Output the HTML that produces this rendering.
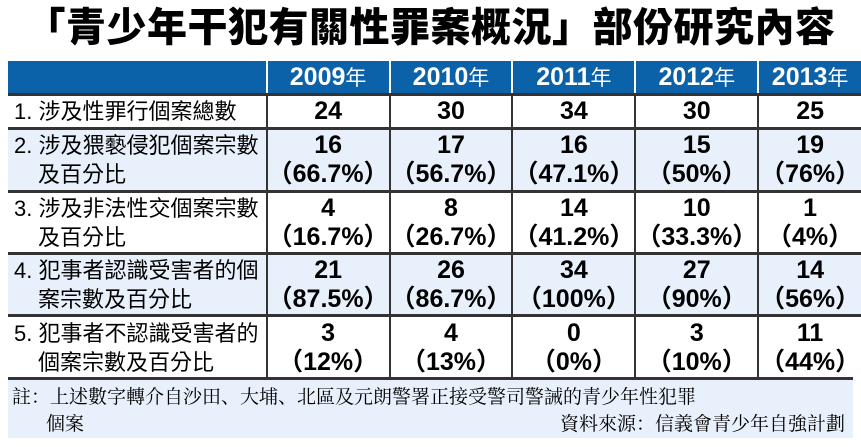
<!DOCTYPE html>
<html><head><meta charset="utf-8"><style>
body{margin:0;width:861px;height:447px;background:#fff;overflow:hidden;font-family:"Liberation Sans","Noto Sans CJK TC",sans-serif;}
.title{position:absolute;left:0;top:2px;width:861px;text-align:center;font-size:40px;font-weight:900;line-height:52px;color:#000;letter-spacing:0.5px;}
table{position:absolute;left:8px;top:61px;border-collapse:collapse;table-layout:fixed;}
td,th{padding:0;text-align:center;vertical-align:middle;}
th{background:#0b62a8;color:#fff;font-size:25px;font-weight:bold;height:32px;border-left:2px solid #fff;}
th:first-child{border-left:none}
td{border-top:3px solid #333;border-left:2px solid #333;font-size:25px;font-weight:bold;line-height:29px;}
td.lab{border-left:none;text-align:left;font-weight:normal;font-size:22px;line-height:29px;padding-left:6px;white-space:pre;}
.l2{position:relative;left:24px;}
tr.alt td{background:#e8f1fb;}
.foot{position:absolute;left:8px;top:377px;width:845px;height:61px;background:#e8f1fb;border-top:3px solid #333;box-sizing:border-box;font-size:19px;line-height:27px;font-family:"Noto Serif CJK SC","Liberation Serif",serif;}
.y{font-size:21px;font-weight:normal}
</style></head><body>
<div class="title">「青少年干犯有關性罪案概況」部份研究內容</div>
<table>
<colgroup><col style="width:272px"><col style="width:117px"><col style="width:118px"><col style="width:117px"><col style="width:115px"><col style="width:106px"></colgroup>
<tr><th></th><th>2009<span class="y">年</span></th><th>2010<span class="y">年</span></th><th>2011<span class="y">年</span></th><th>2012<span class="y">年</span></th><th>2013<span class="y">年</span></th></tr>
<tr style="height:34px"><td class="lab">1. 涉及性罪行個案總數</td><td>24</td><td>30</td><td>34</td><td>30</td><td>25</td></tr>
<tr class="alt" style="height:63px"><td class="lab">2. 涉及猥褻侵犯個案宗數<br><span class="l2">及百分比</span></td><td>16<br>（66.7%）</td><td>17<br>（56.7%）</td><td>16<br>（47.1%）</td><td>15<br>（50%）</td><td>19<br>（76%）</td></tr>
<tr style="height:62px"><td class="lab">3. 涉及非法性交個案宗數<br><span class="l2">及百分比</span></td><td>4<br>（16.7%）</td><td>8<br>（26.7%）</td><td>14<br>（41.2%）</td><td>10<br>（33.3%）</td><td>1<br>（4%）</td></tr>
<tr class="alt" style="height:62px"><td class="lab">4. 犯事者認識受害者的個<br><span class="l2">案宗數及百分比</span></td><td>21<br>（87.5%）</td><td>26<br>（86.7%）</td><td>34<br>（100%）</td><td>27<br>（90%）</td><td>14<br>（56%）</td></tr>
<tr style="height:63px"><td class="lab">5. 犯事者不認識受害者的<br><span class="l2">個案宗數及百分比</span></td><td>3<br>（12%）</td><td>4<br>（13%）</td><td>0<br>（0%）</td><td>3<br>（10%）</td><td>11<br>（44%）</td></tr>
</table>
<div class="foot">
<div style="padding-left:4px;margin-top:2px">註：上述數字轉介自沙田、大埔、北區及元朗警署正接受警司警誡的青少年性犯罪</div>
<div style="position:relative"><span style="padding-left:38px">個案</span><span style="position:absolute;right:8px">資料來源：信義會青少年自強計劃</span></div>
</div>
</body></html>
